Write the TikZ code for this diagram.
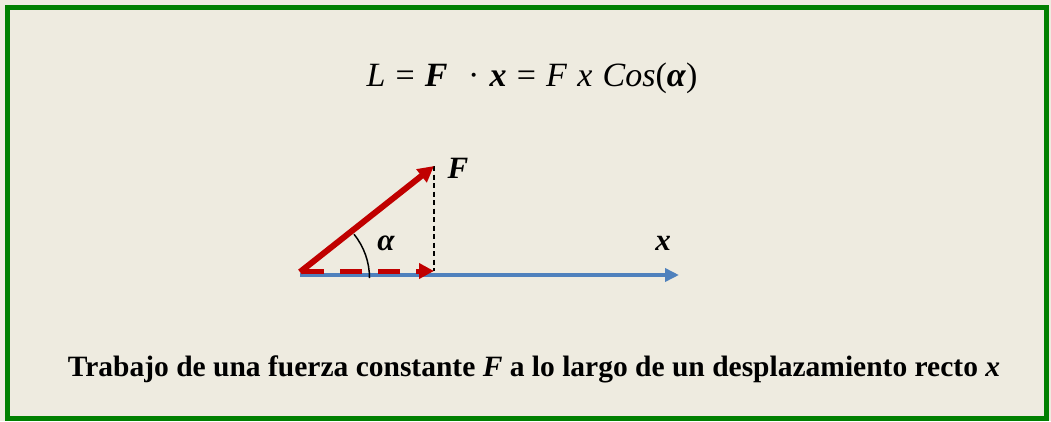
\documentclass[tikz,border=0pt]{standalone}
\usepackage{fontspec}
\setmainfont{Liberation Serif}
\usetikzlibrary{arrows.meta}
\definecolor{bg}{HTML}{EEEBE0}
\definecolor{frame}{HTML}{008000}
\definecolor{fred}{HTML}{C00000}
\definecolor{xblue}{HTML}{4F81BD}
\newcommand{\bi}[1]{\textbf{\textit{#1}}}
\newcommand{\eqsp}{\hspace{0.3em}}
\tikzset{
  vecred/.style={draw=fred,line width=6pt,-{Triangle[length=16pt,width=16pt]}},
  vecblue/.style={draw=xblue,line width=4pt,-{Triangle[length=14pt,width=13pt]}},
  proj/.style={draw=fred,line width=5pt,dash pattern=on 22pt off 16pt,-{Triangle[length=15pt,width=15pt]}},
  guide/.style={draw=black,line width=1.4pt,dash pattern=on 5pt off 3.5pt},
  lbl/.style={font=\fontsize{31}{36}\selectfont\bfseries\itshape,inner sep=0pt}
}
\begin{document}
\begin{tikzpicture}[x=1pt,y=-1pt]
\useasboundingbox (0,0) rectangle (1051,421);
\fill[bg] (0,0) rectangle (1051,421);
\draw[frame,line width=5pt] (7.5,7.5) rectangle (1046.5,418.5);
\coordinate (O) at (300,275);
\coordinate (X) at (679,275);
\coordinate (Fp) at (434,166);
\coordinate (P) at (434,271);
\coordinate (Q) at (302,271);
\draw[guide] (Fp) -- (P);
\draw[vecblue] (O) -- (X);
\draw[proj] (Q) -- (P);
\draw[vecred] (300,272) -- (Fp);
\draw[black,line width=1.5pt] (369.5,278) arc[start angle=0,end angle=-39,radius=69.5];
\node[lbl] (F) at (458,168) {F};
\node[lbl] (a) at (386,243) {α};
\node[lbl] (x) at (663,243) {x};
\node[inner sep=0pt,font=\fontsize{34}{40}\selectfont] (eq) at (532,78)
  {\textit{L}\eqsp=\eqsp\bi{F}\eqsp\eqsp·\eqsp\bi{x}\eqsp=\eqsp\textit{F}\eqsp\textit{x}\eqsp\textit{Cos}(\bi{α})};
\node[inner sep=0pt,font=\fontsize{29.5}{34}\selectfont\bfseries] (cap) at (534,369)
  {Trabajo de una fuerza constante \textit{F} a lo largo de un desplazamiento recto \textit{x}};
\end{tikzpicture}
\end{document}
